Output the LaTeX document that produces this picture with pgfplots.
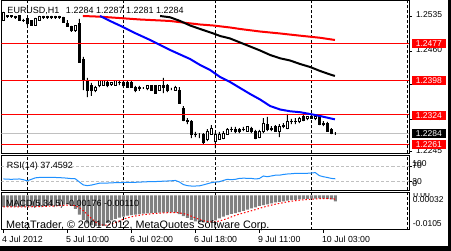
\documentclass[border=0pt]{standalone}
\usepackage{fontspec}
\setmainfont{Liberation Sans}
\usepackage{pgfplots}
\usepackage{pgfplotstable}
\pgfplotsset{compat=1.18}
\definecolor{mtsilver}{RGB}{192,192,192}
\definecolor{mtgray}{RGB}{128,128,128}
\definecolor{mtdodger}{RGB}{30,144,255}
\definecolor{mtred}{RGB}{255,0,0}
\definecolor{mtblue}{RGB}{0,0,255}
\newcommand\fa{\fontsize{8.5pt}{10pt}\selectfont}
\newcommand\fb{\fontsize{9pt}{10pt}\selectfont}
\newcommand\fc{\fontsize{8.8pt}{10pt}\selectfont}
\newcommand\fd{\fontsize{10.8pt}{12pt}\selectfont}

\pgfplotstableread{
i o h l c
0 1.25268 1.25440 1.25268 1.25418
1 1.25354 1.25375 1.25311 1.25333
2 1.25354 1.25375 1.25311 1.25333
3 1.25333 1.25354 1.25290 1.25322
4 1.25354 1.25375 1.25247 1.25268
5 1.25268 1.25290 1.25226 1.25247
6 1.25290 1.25311 1.25161 1.25183
7 1.25247 1.25268 1.25140 1.25161
8 1.25161 1.25311 1.25140 1.25290
9 1.25268 1.25354 1.25247 1.25333
10 1.25333 1.25354 1.25290 1.25311
11 1.25311 1.25354 1.25290 1.25333
12 1.25333 1.25354 1.25290 1.25311
13 1.25311 1.25354 1.25290 1.25333
14 1.25333 1.25354 1.25290 1.25311
15 1.25311 1.25333 1.25204 1.25204
16 1.25204 1.25268 1.25119 1.25119
17 1.25119 1.25140 1.25012 1.25033
18 1.25033 1.25161 1.25012 1.25140
19 1.25183 1.25290 1.24349 1.24349
20 1.24413 1.24477 1.23771 1.23985
21 1.23985 1.24028 1.23621 1.23771
22 1.23878 1.23921 1.23643 1.23771
23 1.23771 1.23857 1.23728 1.23835
24 1.23857 1.23985 1.23835 1.23964
25 1.23878 1.23985 1.23857 1.23964
26 1.23942 1.23964 1.23835 1.23857
27 1.23899 1.23942 1.23857 1.23921
28 1.23878 1.23985 1.23857 1.23964
29 1.23942 1.23985 1.23878 1.23921
30 1.23942 1.23964 1.23835 1.23857
31 1.23942 1.23964 1.23814 1.23835
32 1.23921 1.23964 1.23814 1.23835
33 1.23835 1.23857 1.23728 1.23750
34 1.23814 1.23857 1.23750 1.23793
35 1.23814 1.23835 1.23793 1.23814
36 1.23793 1.23878 1.23771 1.23857
37 1.23857 1.23878 1.23750 1.23771
38 1.23857 1.23878 1.23686 1.23707
39 1.23771 1.23878 1.23750 1.23857
40 1.23878 1.24028 1.23707 1.23814
41 1.23878 1.23899 1.23728 1.23750
42 1.23793 1.23814 1.23771 1.23793
43 1.23771 1.23857 1.23750 1.23835
44 1.23771 1.23835 1.23472 1.23493
45 1.23386 1.23429 1.23108 1.23129
46 1.23129 1.23172 1.23044 1.23087
47 1.23087 1.23129 1.22744 1.22809
48 1.22830 1.22873 1.22766 1.22809
49 1.22809 1.22851 1.22744 1.22809
50 1.22809 1.22851 1.22595 1.22659
51 1.22702 1.22937 1.22680 1.22894
52 1.22830 1.23022 1.22809 1.22958
53 1.22680 1.22873 1.22530 1.22809
54 1.22723 1.22873 1.22702 1.22830
55 1.22744 1.22894 1.22723 1.22851
56 1.22830 1.22958 1.22809 1.22937
57 1.22916 1.22980 1.22873 1.22937
58 1.22937 1.22980 1.22851 1.22894
59 1.22916 1.22958 1.22851 1.22894
60 1.22916 1.22980 1.22894 1.22937
61 1.22894 1.23001 1.22873 1.22980
62 1.22958 1.22980 1.22851 1.22873
63 1.22894 1.22916 1.22723 1.22744
64 1.22766 1.22916 1.22744 1.22894
65 1.22873 1.23172 1.22851 1.23065
66 1.23044 1.23194 1.22894 1.22916
67 1.22958 1.23001 1.22894 1.22937
68 1.23001 1.23022 1.22873 1.22894
69 1.22894 1.23044 1.22766 1.23001
70 1.23001 1.23065 1.22958 1.23022
71 1.22958 1.23258 1.22937 1.23087
72 1.23087 1.23151 1.23044 1.23108
73 1.23108 1.23172 1.23044 1.23087
74 1.23087 1.23194 1.23065 1.23172
75 1.23194 1.23258 1.23108 1.23129
76 1.23151 1.23215 1.23129 1.23194
77 1.23194 1.23236 1.23151 1.23172
78 1.23151 1.23236 1.23129 1.23215
79 1.23194 1.23215 1.23022 1.23044
80 1.23065 1.23108 1.23001 1.23044
81 1.23065 1.23087 1.22873 1.22894
82 1.22937 1.22958 1.22830 1.22851
83 1.22840 1.22870 1.22810 1.22840
}\candles

\pgfplotstableread{
i v
0 37
1 36.5
2 36
3 36.5
4 37
5 35
6 32
7 36
8 40
9 41
10 41
11 41
12 41
13 41
14 40.5
15 40
16 39
17 38
18 37.5
19 29
20 21
21 19
22 20.5
23 23
24 25.5
25 26
26 26
27 26.5
28 27
29 27
30 27.5
31 28
32 28
33 28
34 28.5
35 29
36 29.5
37 30
38 30
39 30.5
40 31
41 31.5
42 32
43 33
44 29
45 22
46 19
47 18
48 18
49 18.5
50 21
51 24
52 27
53 28.5
54 29.5
55 33
56 36
57 35
58 36
59 38.5
60 39
61 38.8
62 38.5
63 37
64 38
65 44.9
66 43
67 45
68 47
69 47
70 49
71 50.3
72 51
73 52
74 52.2
75 52
76 52.2
77 53
78 54
79 46
80 43
81 41
82 38.5
83 37.4592
}\rsi

\pgfplotstableread{
i m s
0 -0.00348 -0.00350
1 -0.00348 -0.00350
2 -0.00348 -0.00349
3 -0.00345 -0.00348
4 -0.00345 -0.00347
5 -0.00345 -0.00346
6 -0.00340 -0.00345
7 -0.00338 -0.00343
8 -0.00333 -0.00340
9 -0.00330 -0.00337
10 -0.00325 -0.00333
11 -0.00319 -0.00329
12 -0.00315 -0.00324
13 -0.00310 -0.00320
14 -0.00290 -0.00312
15 -0.00275 -0.00302
16 -0.00272 -0.00292
17 -0.00304 -0.00290
18 -0.00407 -0.00310
19 -0.00582 -0.00368
20 -0.00743 -0.00462
21 -0.00845 -0.00576
22 -0.00904 -0.00696
23 -0.00933 -0.00801
24 -0.00933 -0.00872
25 -0.00904 -0.00904
26 -0.00830 -0.00901
27 -0.00760 -0.00872
28 -0.00710 -0.00827
29 -0.00675 -0.00776
30 -0.00645 -0.00724
31 -0.00615 -0.00681
32 -0.00600 -0.00649
33 -0.00585 -0.00624
34 -0.00565 -0.00602
35 -0.00555 -0.00584
36 -0.00545 -0.00570
37 -0.00538 -0.00558
38 -0.00532 -0.00547
39 -0.00524 -0.00539
40 -0.00518 -0.00531
41 -0.00515 -0.00525
42 -0.00515 -0.00521
43 -0.00524 -0.00519
44 -0.00567 -0.00528
45 -0.00626 -0.00549
46 -0.00684 -0.00583
47 -0.00743 -0.00629
48 -0.00787 -0.00681
49 -0.00807 -0.00729
50 -0.00816 -0.00767
51 -0.00807 -0.00792
52 -0.00801 -0.00804
53 -0.00760 -0.00798
54 -0.00700 -0.00777
55 -0.00640 -0.00742
56 -0.00600 -0.00700
57 -0.00560 -0.00652
58 -0.00535 -0.00607
59 -0.00505 -0.00568
60 -0.00470 -0.00534
61 -0.00430 -0.00500
62 -0.00390 -0.00466
63 -0.00360 -0.00431
64 -0.00315 -0.00393
65 -0.00290 -0.00357
66 -0.00272 -0.00325
67 -0.00240 -0.00295
68 -0.00210 -0.00265
69 -0.00192 -0.00241
70 -0.00176 -0.00218
71 -0.00155 -0.00195
72 -0.00140 -0.00175
73 -0.00130 -0.00159
74 -0.00120 -0.00144
75 -0.00112 -0.00131
76 -0.00104 -0.00121
77 -0.00098 -0.00113
78 -0.00092 -0.00105
79 -0.00090 -0.00099
80 -0.00095 -0.00096
81 -0.00100 -0.00095
82 -0.00120 -0.00099
83 -0.00176 -0.00110
}\macd

\pgfplotstableread{
i p
19.9 1.25354
24.2 1.25339
29.9 1.25305
34.2 1.25279
39.2 1.25258
41.7 1.25247
45.9 1.25204
49.2 1.25172
52.4 1.25151
56.7 1.25108
59.2 1.25076
64.2 1.25022
69.2 1.24980
74.2 1.24933
79.2 1.24888
82.9 1.24841
}\mared

\pgfplotstableread{
i p
39.2 1.25354
41.7 1.25326
44.2 1.25247
46.7 1.25151
49.2 1.25076
52.4 1.24984
54.2 1.24926
56.7 1.24873
59.2 1.24787
61.7 1.24702
64.2 1.24616
66.7 1.24520
69.2 1.24449
71.7 1.24402
74.2 1.24327
76.7 1.24263
79.2 1.24178
81.7 1.24103
82.9 1.24071
}\mablack

\pgfplotstableread{
i p
24.2 1.25354
26.7 1.25247
29.9 1.25119
32.9 1.24990
36.7 1.24841
39.2 1.24734
41.7 1.24627
44.2 1.24530
46.7 1.24434
49.2 1.24306
51.7 1.24199
54.2 1.24049
56.7 1.23942
59.2 1.23814
61.7 1.23686
64.2 1.23568
66.7 1.23429
69.2 1.23354
71.7 1.23316
74.2 1.23296
76.7 1.23258
79.2 1.23215
81.7 1.23166
82.9 1.23144
}\mablue

\pgfplotsset{
  mt/.style={scale only axis, width=407.5pt, xmin=-0.45, xmax=101.425,
    clip mode=individual, axis line style={black, line width=1pt}},
  mtmain/.style={mt, at={(1.5pt,97.5pt)}, anchor=south west, height=152.5pt,
    ymin=1.224133, ymax=1.256746},
  mtsep/.style={extra x ticks={6,30,53,77,101}, extra x tick labels={},
    extra x tick style={grid=major, major tick length=0pt},
    major grid style={black, line width=0.8pt, dash pattern=on 3pt off 2pt}},
}
\tikzset{
  pricelab/.style={anchor=west, inner sep=0pt, font=\fa, xshift=6.8pt, yshift=1.2pt},
  pricebox/.style={anchor=west, inner sep=0pt, font=\fa, text=white, minimum width=34pt,
    minimum height=9pt, xshift=2.7pt, yshift=-0.4pt},
}

\begin{document}
\begin{tikzpicture}[x=1pt,y=1pt]
\useasboundingbox (0,0) rectangle (451,251);
\fill[white] (0,0) rectangle (451,251);

% ---------- main panel: frame, ticks, bid line, separators
\begin{axis}[mtmain, mtsep, xtick=\empty,
  ytick={1.2245,1.2315,1.2390,1.2460,1.2535}, yticklabels={},
  ytick pos=right, tick align=outside, major tick length=3pt,
  tick style={black, line width=0.8pt}]
\addplot[mtsilver, line width=0.8pt] coordinates {(-0.45,1.2284) (101.425,1.2284)};
\node[pricelab] at (axis cs:101.425,1.2535) {1.2535};
\node[pricelab] at (axis cs:101.425,1.2460) {1.2460};
\node[pricelab] at (axis cs:101.425,1.2390) {1.2390};
\node[pricelab] at (axis cs:101.425,1.2315) {1.2315};
\node[pricelab] at (axis cs:101.425,1.2245) {1.2245};
\end{axis}

% ---------- wicks
\begin{axis}[mtmain, hide axis, ybar stacked, bar width=1pt]
\addplot[draw=none, fill=none] table[x=i, y=l] {\candles};
\addplot[fill=black, draw=none] table[x=i, y expr={\thisrow{h}-\thisrow{l}}] {\candles};
\end{axis}

% ---------- bodies
\begin{axis}[mtmain, hide axis, ybar stacked, bar width=2pt]
\addplot[draw=none, fill=none] table[x=i, y expr={min(\thisrow{o},\thisrow{c})}] {\candles};
\addplot[fill=white, draw=black, line width=1pt] table[x=i, y expr={(\thisrow{c}>\thisrow{o}) ? (\thisrow{c}-\thisrow{o}) : 0}] {\candles};
\addplot[fill=black, draw=black, line width=1pt] table[x=i, y expr={(\thisrow{c}>\thisrow{o}) ? 0 : (\thisrow{o}-\thisrow{c})}] {\candles};
\end{axis}

% ---------- moving averages, levels, price boxes, title
\begin{axis}[mtmain, hide axis]
\addplot[mtred, line width=1pt] coordinates {(-0.45,1.2477) (101.425,1.2477)};
\addplot[mtred, line width=1pt] coordinates {(-0.45,1.2398) (101.425,1.2398)};
\addplot[mtred, line width=1pt] coordinates {(-0.45,1.2324) (101.425,1.2324)};
\addplot[mtred, line width=1pt] coordinates {(-0.45,1.2261) (101.425,1.2261)};
\addplot[mtred, line width=2pt] table[x=i, y=p] {\mared};
\addplot[black, line width=2pt] table[x=i, y=p] {\mablack};
\addplot[mtblue, line width=2pt] table[x=i, y=p] {\mablue};
\node[pricebox, fill=mtred] at (axis cs:101.425,1.2477) {1.2477};
\node[pricebox, fill=mtred] at (axis cs:101.425,1.2398) {1.2398};
\node[pricebox, fill=mtred] at (axis cs:101.425,1.2324) {1.2324};
\node[pricebox, fill=black] at (axis cs:101.425,1.2284) {1.2284};
\node[pricebox, fill=mtred] at (axis cs:101.425,1.2261) {1.2261};
\node[anchor=base west, inner sep=0pt, font=\fb, xshift=5.8pt, yshift=-12.4pt] at (rel axis cs:0,1)
  {EURUSD,H1\hspace{6.5pt}1.2284 1.2287 1.2281 1.2284};
\end{axis}

% ---------- RSI panel
\begin{axis}[mt, mtsep, at={(1.5pt,60.5pt)}, anchor=south west, height=35pt,
  ymin=6, ymax=100, xtick=\empty, ytick={30,70}, yticklabels={},
  ytick pos=right, tick align=outside, major tick length=3pt,
  tick style={black, line width=0.8pt}]
\addplot[mtsilver, line width=0.8pt, dash pattern=on 3pt off 2pt] coordinates {(-0.45,70) (101.425,70)};
\addplot[mtsilver, line width=0.8pt, dash pattern=on 3pt off 2pt] coordinates {(-0.45,30) (101.425,30)};
\addplot[mtdodger, line width=1pt] table[x=i, y=v] {\rsi};
\node[anchor=base west, inner sep=0pt, font=\fb, xshift=5.2pt, yshift=-13.2pt] at (rel axis cs:0,1) {RSI(14) 37.4592};
\node[anchor=west, inner sep=0pt, font=\fa, xshift=3.2pt, yshift=-7.8pt] at (rel axis cs:1,1) {100};
\node[anchor=west, inner sep=0pt, font=\fa, xshift=3.2pt, yshift=-10.2pt] at (rel axis cs:1,1) {70};
\node[anchor=west, inner sep=0pt, font=\fa, xshift=3.2pt, yshift=-26.2pt] at (rel axis cs:1,1) {30};
\node[anchor=west, inner sep=0pt, font=\fa, xshift=3.2pt, yshift=-27.8pt] at (rel axis cs:1,1) {0};
\end{axis}

% ---------- MACD panel
\begin{axis}[mt, mtsep, at={(1.5pt,21pt)}, anchor=south west, height=37pt,
  ymin=-0.0105, ymax=0.00076, ytick=\empty,
  xtick={0,16,32,48,64,80}, xticklabels={}, xtick pos=left,
  tick align=outside, major tick length=3pt, tick style={black, line width=0.8pt}]
\addplot[ybar, bar width=3pt, fill=mtgray, draw=none] table[x=i, y=m] {\macd};
\addplot[mtred, line width=1pt, dash pattern=on 1.5pt off 2pt] table[x=i, y=s] {\macd};
\node[anchor=base west, inner sep=0pt, font=\fb, xshift=4.5pt, yshift=-13.5pt] at (rel axis cs:0,1) {MACD(5,34,5) -0.00176 -0.00110};
\node[anchor=base west, inner sep=0pt, font=\fd, xshift=4.5pt, yshift=1.6pt] at (rel axis cs:0,0) {MetaTrader, \textcopyright{} 2001-2012, MetaQuotes Software Corp.};
\node[anchor=west, inner sep=0pt, font=\fa, xshift=3.7pt, yshift=-7pt] at (rel axis cs:1,1) {0.00032};
\node[anchor=west, inner sep=0pt, font=\fa, xshift=3.7pt, yshift=6.7pt] at (rel axis cs:1,0) {-0.0105};
\node[anchor=base west, inner sep=0pt, font=\fc, xshift=-1.4pt, yshift=-12.3pt] at (axis cs:0,-0.0105) {4 Jul 2012};
\node[anchor=base west, inner sep=0pt, font=\fc, xshift=-1.4pt, yshift=-12.3pt] at (axis cs:16,-0.0105) {5 Jul 10:00};
\node[anchor=base west, inner sep=0pt, font=\fc, xshift=-1.4pt, yshift=-12.3pt] at (axis cs:32,-0.0105) {6 Jul 02:00};
\node[anchor=base west, inner sep=0pt, font=\fc, xshift=-1.4pt, yshift=-12.3pt] at (axis cs:48,-0.0105) {6 Jul 18:00};
\node[anchor=base west, inner sep=0pt, font=\fc, xshift=-1.4pt, yshift=-12.3pt] at (axis cs:64,-0.0105) {9 Jul 11:00};
\node[anchor=base west, inner sep=0pt, font=\fc, xshift=-1.4pt, yshift=-12.3pt] at (axis cs:80,-0.0105) {10 Jul 03:00};
\end{axis}

\begin{scope}
\clip (405,30) rectangle (447,57.4);
\node[anchor=west, inner sep=0pt, font=\fa] at (413.2,56.2) {0.00};
\end{scope}

\fill[black] (0,0) rectangle (451,5);
\fill[black] (447.5,0) rectangle (451,251);
\end{tikzpicture}
\end{document}
